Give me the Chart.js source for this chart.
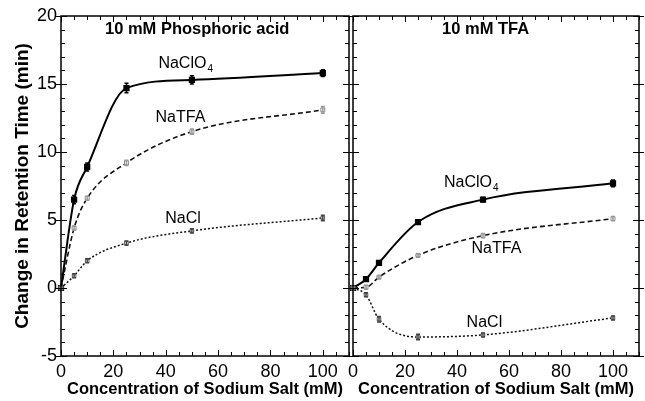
<!DOCTYPE html>
<html lang="en">
<head>
    <meta charset="UTF-8">
    <title>Change in Retention Time vs Sodium Salt</title>
    <script src="https://cdn.jsdelivr.net/npm/chart.js"></script>
    <style>
        body { margin: 0; background: #fff; }
        #wrap { position: relative; width: 645px; height: 401px; }
        canvas { position: absolute; top: 0; }
        #leftChart { left: 0; }
        #rightChart { left: 343px; }
    </style>
</head>
<body>
    <div id="wrap">
        <canvas id="leftChart" width="355" height="401"></canvas>
        <canvas id="rightChart" width="302" height="401"></canvas>
    </div>

    <script>
        // concentration of sodium salt (mM)
        const conc = [0, 5, 10, 25, 50, 100];

        // 10 mM phosphoric acid panel
        const phosClO4 = [0, 6.5, 8.9, 14.7, 15.3, 15.8];
        const phosTFA = [0, 4.4, 6.6, 9.2, 11.5, 13.1];
        const phosCl = [0, 0.9, 2.0, 3.3, 4.2, 5.15];
        const phosClO4Err = [0, 0.3, 0.3, 0.35, 0.3, 0.25];
        const phosTFAErr = [0, 0.15, 0.15, 0.2, 0.2, 0.25];
        const phosClErr = [0, 0.15, 0.15, 0.15, 0.15, 0.2];

        // 10 mM TFA panel
        const tfaClO4 = [0, 0.65, 1.85, 4.85, 6.5, 7.7];
        const tfaTFA = [0, 0.05, 0.8, 2.4, 3.85, 5.1];
        const tfaCl = [0, -0.5, -2.3, -3.6, -3.45, -2.2];
        const tfaClO4Err = [0, 0.1, 0.1, 0.15, 0.15, 0.25];
        const tfaTFAErr = [0, 0.15, 0.1, 0.1, 0.15, 0.15];
        const tfaClErr = [0, 0.15, 0.2, 0.2, 0.15, 0.15];

        // tick labels
        const xTickLabels = [0, 20, 40, 60, 80, 100];
        const yTickLabels = [-5, 0, 5, 10, 15, 20];

        const FONT = "'Liberation Sans', Arial, Helvetica, sans-serif";

        function toPoints(ys) {
            return conc.map((c, i) => ({ x: c, y: ys[i] }));
        }

        function series(ys, errs, kind) {
            const base = {
                data: toPoints(ys),
                errors: errs,
                pointStyle: 'rect',
                cubicInterpolationMode: 'monotone',
                clip: false
            };
            if (kind === 'clo4') {
                return Object.assign(base, {
                    borderColor: '#000', borderWidth: 2,
                    pointBackgroundColor: '#000', pointBorderColor: '#000',
                    pointRadius: 3, errColor: '#000'
                });
            }
            if (kind === 'tfa') {
                return Object.assign(base, {
                    borderColor: '#111', borderWidth: 1.6, borderDash: [5, 3],
                    pointBackgroundColor: '#fff', pointBorderColor: '#888',
                    pointBorderWidth: 1, pointRadius: 2.8, errColor: '#999'
                });
            }
            return Object.assign(base, {
                borderColor: '#111', borderWidth: 1.5, borderDash: [2, 2],
                pointBackgroundColor: '#fff', pointBorderColor: '#555',
                pointBorderWidth: 1, pointRadius: 2.5, errColor: '#444'
            });
        }

        // box with inward ticks on all four sides
        const framePlugin = {
            id: 'frame',
            afterDraw(chart) {
                const { ctx, chartArea: a, scales: { x, y } } = chart;
                ctx.save();
                ctx.strokeStyle = '#000';
                ctx.lineWidth = 1;
                for (let v = y.min; v <= y.max; v += 1) {
                    const py = Math.round(y.getPixelForValue(v)) + 0.5;
                    const major = v % 5 === 0;
                    const len = major ? 6 : 4;
                    const out = major ? 5 : 0;
                    ctx.beginPath();
                    ctx.moveTo(a.left - out, py); ctx.lineTo(a.left + len, py);
                    ctx.moveTo(a.right + out, py); ctx.lineTo(a.right - len, py);
                    ctx.stroke();
                }
                for (let v = x.min; v <= x.max; v += 5) {
                    const px = Math.round(x.getPixelForValue(v)) + 0.5;
                    const len = v % 20 === 0 ? 6 : 4;
                    ctx.beginPath();
                    ctx.moveTo(px, a.bottom); ctx.lineTo(px, a.bottom - len);
                    ctx.moveTo(px, a.top); ctx.lineTo(px, a.top + len);
                    ctx.stroke();
                }
                ctx.lineWidth = 1.5;
                ctx.strokeRect(a.left, a.top, a.right - a.left, a.bottom - a.top);
                ctx.restore();
            }
        };

        // vertical error bars from each dataset's errors array
        const errorBarPlugin = {
            id: 'errorBars',
            afterDatasetsDraw(chart) {
                const { ctx, scales: { x, y } } = chart;
                ctx.save();
                chart.data.datasets.forEach(ds => {
                    if (!ds.errors) return;
                    ctx.strokeStyle = ds.errColor;
                    ctx.lineWidth = 1.5;
                    ds.data.forEach((p, i) => {
                        const e = ds.errors[i];
                        if (!e) return;
                        const px = x.getPixelForValue(p.x);
                        const y0 = y.getPixelForValue(p.y - e);
                        const y1 = y.getPixelForValue(p.y + e);
                        ctx.beginPath();
                        ctx.moveTo(px, y0); ctx.lineTo(px, y1);
                        ctx.moveTo(px - 2, y0); ctx.lineTo(px + 2, y0);
                        ctx.moveTo(px - 2, y1); ctx.lineTo(px + 2, y1);
                        ctx.stroke();
                    });
                });
                ctx.restore();
            }
        };

        // panel title and curve labels (NaClO4 with subscript)
        const labelPlugin = {
            id: 'curveLabels',
            afterDraw(chart, args, opts) {
                const { ctx, chartArea: a, scales: { x, y } } = chart;
                ctx.save();
                ctx.fillStyle = '#000';
                ctx.textBaseline = 'alphabetic';
                ctx.font = 'bold 16.5px ' + FONT;
                ctx.textAlign = 'center';
                ctx.fillText(opts.title, x.getPixelForValue(opts.titleX), a.top + 18);
                ctx.textAlign = 'left';
                opts.labels.forEach(l => {
                    const px = x.getPixelForValue(l.x);
                    const py = y.getPixelForValue(l.y);
                    ctx.font = '16px ' + FONT;
                    ctx.fillText(l.text, px, py);
                    if (l.sub) {
                        const w = ctx.measureText(l.text).width;
                        ctx.font = '10px ' + FONT;
                        ctx.fillText(l.sub, px + w + 1, py + 4);
                    }
                });
                ctx.restore();
            }
        };

        function makeChart(id, datasets, showY, pad, labels) {
            return new Chart(document.getElementById(id), {
                type: 'line',
                data: { datasets: datasets },
                options: {
                    responsive: false,
                    animation: false,
                    devicePixelRatio: 1,
                    layout: { padding: pad },
                    plugins: {
                        legend: { display: false },
                        tooltip: { enabled: false },
                        curveLabels: labels
                    },
                    scales: {
                        x: {
                            type: 'linear',
                            min: 0,
                            max: 110,
                            afterFit: s => { s.height = 45; },
                            afterBuildTicks: s => { s.ticks = xTickLabels.map(v => ({ value: v })); },
                            grid: { display: false, drawTicks: false },
                            border: { display: false },
                            ticks: {
                                padding: 5,
                                color: '#000',
                                font: { family: FONT, size: 18 }
                            },
                            title: {
                                display: true,
                                text: 'Concentration of Sodium Salt (mM)',
                                color: '#000',
                                font: { family: FONT, size: 16.5, weight: 'bold' },
                                padding: { top: 0, bottom: 2 }
                            }
                        },
                        y: {
                            type: 'linear',
                            display: showY,
                            min: -5,
                            max: 20,
                            afterFit: s => { if (showY) s.width = 61; },
                            afterBuildTicks: s => { s.ticks = yTickLabels.map(v => ({ value: v })); },
                            grid: { display: false, drawTicks: false },
                            border: { display: false },
                            ticks: {
                                padding: 4,
                                color: '#000',
                                font: { family: FONT, size: 18 }
                            },
                            title: {
                                display: true,
                                text: 'Change in Retention Time (min)',
                                color: '#000',
                                font: { family: FONT, size: 19, weight: 'bold' },
                                padding: { top: 11, bottom: 0 }
                            }
                        }
                    }
                },
                plugins: [framePlugin, errorBarPlugin, labelPlugin]
            });
        }

        makeChart('leftChart', [
            series(phosCl, phosClErr, 'cl'),
            series(phosTFA, phosTFAErr, 'tfa'),
            series(phosClO4, phosClO4Err, 'clo4')
        ], true, { top: 16, right: 2, left: 0, bottom: 0 }, {
            title: '10 mM Phosphoric acid',
            titleX: 52,
            labels: [
                { text: 'NaClO', sub: '4', x: 37.2, y: 16.2 },
                { text: 'NaTFA', x: 36.1, y: 12.2 },
                { text: 'NaCl', x: 39.8, y: 4.8 }
            ]
        });

        makeChart('rightChart', [
            series(tfaCl, tfaClErr, 'cl'),
            series(tfaTFA, tfaTFAErr, 'tfa'),
            series(tfaClO4, tfaClO4Err, 'clo4')
        ], false, { top: 16, right: 1, left: 10, bottom: 0 }, {
            title: '10 mM TFA',
            titleX: 51,
            labels: [
                { text: 'NaClO', sub: '4', x: 35, y: 7.4 },
                { text: 'NaTFA', x: 45.6, y: 2.6 },
                { text: 'NaCl', x: 43.7, y: -2.9 }
            ]
        });
    </script>
</body>
</html>
